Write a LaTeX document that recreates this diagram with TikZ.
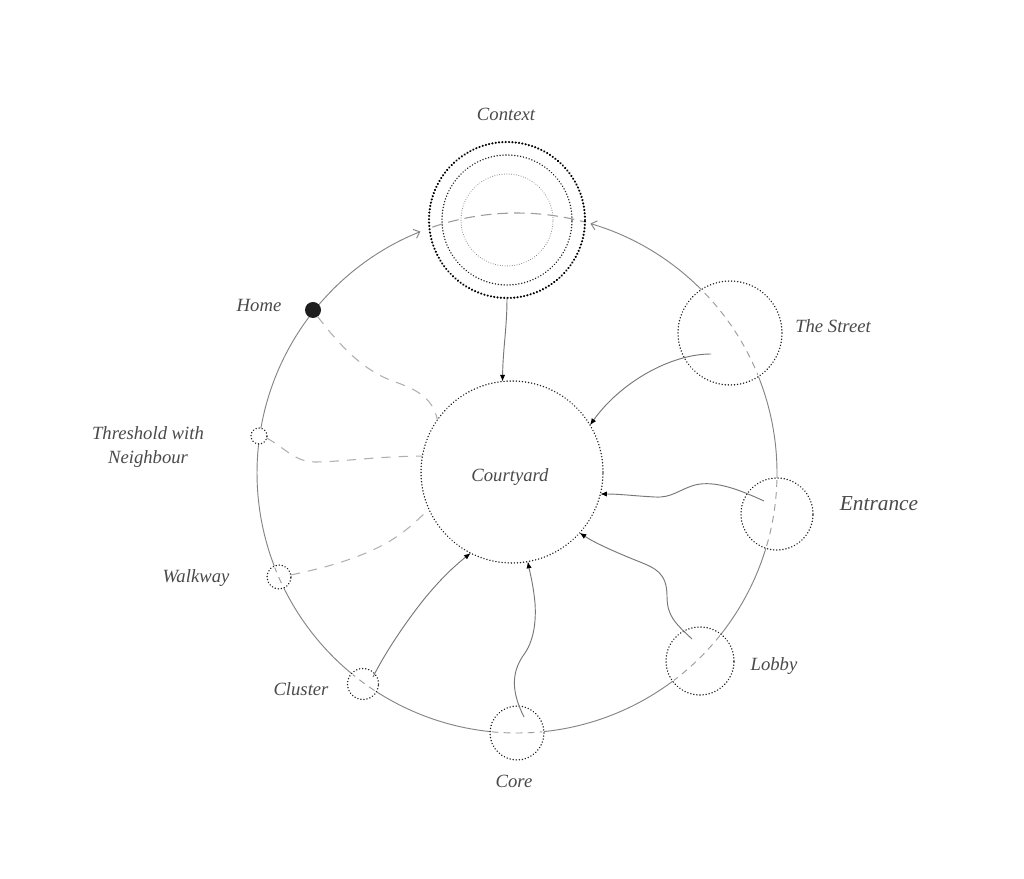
\documentclass[tikz,border=0pt]{standalone}
\usepackage{fontspec}
\setmainfont{Liberation Serif}
\usetikzlibrary{arrows.meta}
\definecolor{ringgray}{HTML}{858585}
\definecolor{dashgray}{HTML}{9C9C9C}
\definecolor{dotblack}{HTML}{222222}
\definecolor{linkgray}{HTML}{777777}
\definecolor{softgray}{HTML}{B0B0B0}
\definecolor{textgray}{HTML}{4A4A4A}
\definecolor{homedark}{HTML}{1E1E1E}
\begin{document}
\begin{tikzpicture}[x=0.75pt,y=0.75pt,
  ringline/.style={draw=ringgray, line width=0.7pt},
  ringarrow/.style={ringline, -{Straight Barb[length=4pt,width=7pt]}},
  ringdash/.style={draw=dashgray, line width=0.7pt, dash pattern=on 5pt off 4pt},
  ctxdash/.style={draw=dashgray, line width=0.8pt, dash pattern=on 8pt off 4.5pt},
  dotcirc/.style={circle, draw=dotblack, fill=white, line width=1.2pt, dash pattern=on 0.01pt off 2.3pt, line cap=round, inner sep=0pt, outer sep=0pt},
  link/.style={draw=linkgray, line width=0.7pt, -{Latex[length=5pt,width=4pt,black]}},
  softlink/.style={draw=softgray, line width=0.8pt, dash pattern=on 7pt off 6pt},
  lbl/.style={text=textgray, font=\fontsize{14}{18}\selectfont\itshape, inner sep=0pt}
]
\useasboundingbox (0,0) rectangle (1024,878);
\fill[white] (0,0) rectangle (1024,878);
\coordinate (rc) at (517,405);

% ring segments
\draw[ringline] ([shift={(141.4:260)}]rc) arc[start angle=141.4, end angle=171.8, radius=260];
\draw[ringline] ([shift={(171.8:260)}]rc) arc[start angle=171.8, end angle=203.6, radius=260];
\draw[ringline] ([shift={(203.6:260)}]rc) arc[start angle=203.6, end angle=233.9, radius=260];
\draw[ringline] ([shift={(233.9:260)}]rc) arc[start angle=233.9, end angle=270, radius=260];
\draw[ringline] ([shift={(270:260)}]rc) arc[start angle=270, end angle=314.2, radius=260];
\draw[ringline] ([shift={(314.2:260)}]rc) arc[start angle=314.2, end angle=351, radius=260];
\draw[ringline] ([shift={(351:260)}]rc) arc[start angle=351, end angle=393.3, radius=260];
\draw[ringarrow] ([shift={(33.3:260)}]rc) arc[start angle=33.3, end angle=73.6, radius=260];
\draw[ringarrow] ([shift={(141.4:260)}]rc) arc[start angle=141.4, end angle=111.8, radius=260];

% nodes on the ring
\node[circle, fill=homedark, minimum size=12pt, inner sep=0pt, outer sep=0pt] (home) at (313,568) {};
\node[dotcirc, minimum size=12pt] (thr) at (259,442) {};
\node[dotcirc, minimum size=18pt] (walk) at (279,301) {};
\node[dotcirc, minimum size=23.25pt] (clus) at (363,194) {};
\node[dotcirc, minimum size=40.5pt] (core) at (517,145) {};
\node[dotcirc, minimum size=51pt] (lobby) at (700,217) {};
\node[dotcirc, minimum size=54pt] (ent) at (777,364) {};
\node[dotcirc, minimum size=78pt] (street) at (730,545) {};

% dashed ring inside the circles
\foreach \n/\r in {walk/12, clus/15.5, core/27, lobby/34, ent/36, street/52}{
  \begin{scope}
    \clip (\n) circle[radius=\r-1.5];
    \draw[ringdash] (rc) circle[radius=260];
  \end{scope}
}

% context
\node[circle, draw=black, line width=1.8pt, dash pattern=on 0.01pt off 2.5pt, line cap=round, minimum size=117pt, inner sep=0pt, outer sep=0pt] (ctx) at (507,658) {};
\node[circle, draw=dotblack, line width=1.2pt, dash pattern=on 0.01pt off 2.2pt, line cap=round, minimum size=97.5pt, inner sep=0pt, outer sep=0pt] (ctxmid) at (ctx.center) {};
\node[circle, draw=ringgray, line width=0.8pt, dash pattern=on 0.01pt off 1.8pt, line cap=round, minimum size=69pt, inner sep=0pt, outer sep=0pt] (ctxin) at (ctx.center) {};
\begin{scope}
  \clip (ctx) circle[radius=77];
  \draw[ctxdash] ([shift={(73.6:260)}]rc) arc[start angle=73.6, end angle=111.8, radius=260];
\end{scope}

% courtyard
\node[dotcirc, fill=none, minimum size=136.5pt] (cy) at (512,406) {};
\node[lbl] (lcy) at (510,401) {Courtyard};

% start points inside the circles
\coordinate (sA) at (711,524);
\coordinate (eA) at (764,377);
\coordinate (lA) at (692,239);
\coordinate (cA) at (524,161);
\coordinate (clA) at (373,201);

% arrows into the courtyard
\draw[link] (ctx.south) .. controls (507,550) and (503,530) .. (cy.96);
\draw[link] (sA) .. controls (670,524) and (620,495) .. (cy.31);
\draw[link] (eA) .. controls (740,388) and (715,398) .. (695,393) .. controls (678,388) and (672,380) .. (655,381) .. controls (635,382) and (620,384) .. (cy.-14);
\draw[link] (lA) .. controls (675,255) and (667,262) .. (667,282) .. controls (667,305) and (655,310) .. (640,316) .. controls (615,326) and (595,335) .. (cy.-42);
\draw[link] (cA) .. controls (512,185) and (510,205) .. (525,225) .. controls (535,240) and (536,260) .. (535,275) .. controls (533,295) and (530,305) .. (cy.-80);
\draw[link] (clA) .. controls (385,225) and (405,255) .. (425,280) .. controls (440,298) and (452,310) .. (cy.-117);

% soft dashed links
\draw[softlink] (home.-55) .. controls (338,535) and (360,510) .. (390,498) .. controls (415,489) and (432,482) .. (cy.145);
\draw[softlink] (thr.-15) .. controls (285,430) and (295,416) .. (315,416) .. controls (340,416) and (380,422) .. (cy.170);
\draw[softlink] (walk.10) .. controls (330,311) and (365,322) .. (390,337) .. controls (405,346) and (418,358) .. (cy.204);

% labels
\node[lbl] (lctx) at (506,764) {Context};
\node[lbl] (lhome) at (259,573) {Home};
\node[lbl] (lstreet) at (833,552) {The Street};
\node[lbl, align=center] (lthr) at (148,431) {Threshold with\\Neighbour};
\node[lbl, font=\fontsize{16}{18}\selectfont\itshape] (lent) at (879,374) {Entrance};
\node[lbl] (lwalk) at (196,300) {Walkway};
\node[lbl] (llobby) at (774,212) {Lobby};
\node[lbl] (lclus) at (301,189) {Cluster};
\node[lbl] (lcore) at (514,97) {Core};
\end{tikzpicture}
\end{document}
